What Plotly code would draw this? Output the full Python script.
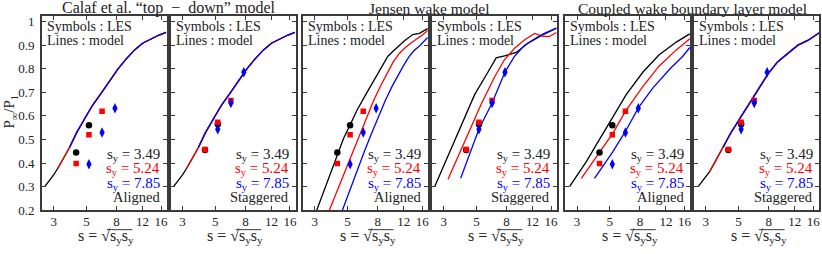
import math
import plotly.graph_objects as go

# ---------------- data ----------------
x_tickvals = [3, 5, 8, 12, 16]
x_ticktext = ["3", "5", "8", "12", "16"]
y_tickvals = [0.2, 0.3, 0.4, 0.5, 0.6, 0.7, 0.8, 0.9, 1.0]
y_ticktext = ["0.2", "0.3", "0.4", "0.5", "0.6", "0.7", "0.8", "0.9", "1"]

sy_labels = ["3.49", "5.24", "7.85"]
pair_titles = ["Calaf et al. \u201ctop\u2002\u2212\u2002down\u201d model", "Jensen wake model",
               "Coupled wake boundary layer model"]
layout_names = ["Aligned", "Staggered"]

# LES symbols (same in every model pair)
les_aligned_black_s = [4.26, 5.20]
les_aligned_black_p = [0.445, 0.560]
les_aligned_red_s = [4.26, 5.20, 6.38]
les_aligned_red_p = [0.398, 0.520, 0.620]
les_aligned_blue_s = [5.20, 6.38, 7.80]
les_aligned_blue_p = [0.395, 0.530, 0.632]

les_stag_black_s = [4.26, 5.20]
les_stag_black_p = [0.455, 0.565]
les_stag_red_s = [4.26, 5.20, 6.38]
les_stag_red_p = [0.457, 0.573, 0.665]
les_stag_blue_s = [5.20, 6.38, 7.80]
les_stag_blue_p = [0.543, 0.655, 0.785]

# Calaf et al. model (single curve; each s_y starts at its own s)
calaf_s = [2.61, 2.8, 3.0, 3.21, 3.5, 3.85, 4.3, 4.86, 5.5, 6.3, 7.2, 8.16, 9.3, 10.6, 12.0, 13.7, 15.5, 17.3]
calaf_p = [0.300, 0.325, 0.350, 0.379, 0.420, 0.467, 0.530, 0.588, 0.645, 0.697, 0.750, 0.798, 0.842,
           0.880, 0.908, 0.927, 0.943, 0.954]
calaf_start = [2.61, 3.21, 3.85]

# Jensen model, aligned
jen_al_black_s = [3.09, 3.5, 4.0, 4.31, 4.7, 5.22, 5.8, 6.53, 7.2, 7.82, 8.6, 9.37, 10.2, 10.96, 12.2, 13.8, 15.3, 17.4]
jen_al_black_p = [0.200, 0.290, 0.393, 0.448, 0.505, 0.564, 0.625, 0.683, 0.730, 0.771, 0.815, 0.853, 0.875,
                  0.893, 0.920, 0.945, 0.950, 0.970]
jen_al_red_s = [3.76, 4.2, 4.7, 5.2, 5.8, 6.73, 7.5, 8.4, 9.3, 10.2, 11.2, 12.3, 13.5, 15.0, 16.2, 17.4]
jen_al_red_p = [0.200, 0.275, 0.350, 0.418, 0.490, 0.595, 0.665, 0.730, 0.785, 0.830, 0.865, 0.890, 0.910,
                0.930, 0.945, 0.962]
jen_al_blue_s = [4.61, 5.2, 5.8, 6.5, 7.2, 8.08, 9.0, 10.0, 11.0, 12.0, 13.0, 14.0, 15.5, 17.4]
jen_al_blue_p = [0.200, 0.290, 0.370, 0.450, 0.520, 0.595, 0.665, 0.725, 0.775, 0.815, 0.850, 0.875, 0.900, 0.933]

# Jensen model, staggered
jen_st_black_s = [2.61, 3.21, 3.94, 4.86, 5.97, 6.8, 7.75, 9.29, 11.1, 13.7, 17.4]
jen_st_black_p = [0.300, 0.430, 0.560, 0.690, 0.785, 0.846, 0.855, 0.869, 0.907, 0.940, 0.972]
jen_st_red_s = [3.21, 4.38, 5.38, 6.63, 7.75, 9.06, 10.6, 12.4, 14.1, 15.6, 17.4]
jen_st_red_p = [0.331, 0.527, 0.649, 0.765, 0.839, 0.887, 0.923, 0.950, 0.937, 0.937, 0.954]
jen_st_blue_s = [3.91, 5.2, 6.38, 7.8, 9.06, 10.6, 12.4, 14.4, 17.4]
jen_st_blue_p = [0.335, 0.544, 0.655, 0.786, 0.853, 0.900, 0.927, 0.950, 0.972]

# Coupled wake boundary layer model, aligned
cwbl_al_black_s = [2.67, 3.47, 4.26, 5.25, 6.46, 8.36, 10.8, 14.1, 17.4]
cwbl_al_black_p = [0.300, 0.406, 0.500, 0.595, 0.690, 0.785, 0.859, 0.913, 0.948]
cwbl_al_red_s = [3.21, 4.26, 5.25, 6.39, 8.36, 10.8, 14.1, 17.4]
cwbl_al_red_p = [0.335, 0.446, 0.527, 0.620, 0.724, 0.812, 0.880, 0.927]
cwbl_al_blue_s = [3.94, 5.25, 6.39, 7.82, 9.77, 12.7, 15.6, 17.4]
cwbl_al_blue_p = [0.335, 0.448, 0.535, 0.635, 0.718, 0.798, 0.853, 0.890]

# Coupled wake boundary layer model, staggered (single curve)
cwbl_st_s = [2.66, 2.9, 3.19, 3.5, 3.93, 4.4, 5.09, 5.6, 6.27, 7.0, 7.91, 9.2, 10.8, 12.6, 14.7, 16.2, 17.7]
cwbl_st_p = [0.300, 0.330, 0.365, 0.410, 0.466, 0.525, 0.588, 0.630, 0.677, 0.725, 0.778, 0.830, 0.866,
             0.900, 0.920, 0.940, 0.954]
cwbl_st_start = [2.66, 3.19, 3.93]

# ---------------- styling / layout ----------------
W, H = 822, 254
COLORS = ["#000000", "#ff0000", "#0000ff"]
SERIF = "Liberation Serif"
SANS = "Liberation Sans Narrow"
AXCOL = "#3a3a3a"
TXT = "#222222"
panels_px = [(42, 167), (171, 296), (303.5, 428.5), (432.5, 557.5), (566, 691), (695, 820)]
TOP_PX, BOT_PX = 15, 216.7


def px(x):
    return x / W


def py(y):
    return 1 - y / H


def split_curve(s, p, starts):
    out = []
    for st in starts:
        pts = [(a, b) for a, b in zip(s, p) if a >= st - 1e-9]
        out.append(([a for a, _ in pts], [b for _, b in pts]))
    return out


models = [
    split_curve(calaf_s, calaf_p, calaf_start),
    split_curve(calaf_s, calaf_p, calaf_start),
    [(jen_al_black_s, jen_al_black_p), (jen_al_red_s, jen_al_red_p), (jen_al_blue_s, jen_al_blue_p)],
    [(jen_st_black_s, jen_st_black_p), (jen_st_red_s, jen_st_red_p), (jen_st_blue_s, jen_st_blue_p)],
    [(cwbl_al_black_s, cwbl_al_black_p), (cwbl_al_red_s, cwbl_al_red_p), (cwbl_al_blue_s, cwbl_al_blue_p)],
    split_curve(cwbl_st_s, cwbl_st_p, cwbl_st_start),
]
les = [
    [(les_aligned_black_s, les_aligned_black_p), (les_aligned_red_s, les_aligned_red_p),
     (les_aligned_blue_s, les_aligned_blue_p)],
    [(les_stag_black_s, les_stag_black_p), (les_stag_red_s, les_stag_red_p),
     (les_stag_blue_s, les_stag_blue_p)],
]
symbols = ["circle", "square", "diamond-tall"]
msizes = [6.5, 5.5, 7.5]

fig = go.Figure()
annotations = []
shapes = []
for i, (l, r) in enumerate(panels_px):
    n = i + 1
    xa = "x" if n == 1 else f"x{n}"
    ya = "y" if n == 1 else f"y{n}"
    for c, (s, p) in enumerate(models[i]):
        fig.add_trace(go.Scatter(x=s, y=p, mode="lines", xaxis=xa, yaxis=ya,
                                 line=dict(color=COLORS[c], width=1.3), showlegend=False,
                                 hoverinfo="skip"))
    for c, (s, p) in enumerate(les[i % 2]):
        fig.add_trace(go.Scatter(x=s, y=p, mode="markers", xaxis=xa, yaxis=ya,
                                 marker=dict(color=COLORS[c], symbol=symbols[c], size=msizes[c],
                                             line=dict(width=0)),
                                 showlegend=False, hoverinfo="skip"))
    axcommon = dict(showline=True, linecolor=AXCOL, linewidth=1.5, mirror="ticks", ticks="inside",
                    ticklen=4, tickwidth=1, tickcolor=AXCOL, showgrid=False, zeroline=False)
    fig.layout["xaxis" if n == 1 else f"xaxis{n}"] = dict(
        domain=[px(l), px(r)], type="log", range=[math.log10(2.5), math.log10(17.5)],
        tickvals=x_tickvals, ticktext=x_ticktext, anchor=ya, ticklabelstandoff=-2,
        tickfont=dict(family=SANS, size=13, color=TXT), **axcommon)
    fig.layout["yaxis" if n == 1 else f"yaxis{n}"] = dict(
        domain=[py(BOT_PX), py(TOP_PX)], range=[0.2, 1.022], tickvals=y_tickvals,
        ticktext=y_ticktext, anchor=xa, showticklabels=(n == 1), ticklabelstandoff=3,
        tickfont=dict(family=SANS, size=13, color=TXT), **axcommon)

    # panel texts
    annotations.append(dict(x=px(l + 3), y=py(26), xref="paper", yref="paper", xanchor="left",
                            yanchor="middle", showarrow=False, text="Symbols : LES",
                            font=dict(family=SERIF, size=14, color=TXT)))
    annotations.append(dict(x=px(l + 3), y=py(40.5), xref="paper", yref="paper", xanchor="left",
                            yanchor="middle", showarrow=False, text="Lines : model",
                            font=dict(family=SERIF, size=14, color=TXT)))
    for c, (lab, yy) in enumerate(zip(sy_labels, [159, 174, 189.3])):
        annotations.append(dict(x=px(r - 4.5), y=py(yy), xref="paper", yref="paper", xanchor="right",
                                yanchor="middle", showarrow=False,
                                text=f"s<sub>y</sub> = {lab}",
                                font=dict(family=SERIF, size=15, color=COLORS[c] if c else TXT)))
    annotations.append(dict(x=px(r - 4.5), y=py(203.5), xref="paper", yref="paper", xanchor="right",
                            yanchor="middle", showarrow=False, text=layout_names[i % 2],
                            font=dict(family=SERIF, size=14.5, color=TXT)))
    cx = (l + r) / 2
    annotations.append(dict(x=px(cx - 28), y=py(244), xref="paper", yref="paper", xanchor="left",
                            yanchor="middle", showarrow=False,
                            text="s = \u221as<sub>y</sub>s<sub>y</sub>",
                            font=dict(family=SERIF, size=16, color=TXT)))
    shapes.append(dict(type="line", xref="paper", yref="paper", x0=px(cx + 2.5), x1=px(cx + 28),
                       y0=py(237), y1=py(237), line=dict(color=TXT, width=0.9)))

for k, title in enumerate(pair_titles):
    l = panels_px[2 * k][0]
    r = panels_px[2 * k + 1][1]
    annotations.append(dict(x=px((l + r) / 2), y=py(6.5), xref="paper", yref="paper", xanchor="center",
                            yanchor="middle", showarrow=False, text=title,
                            font=dict(family=SERIF, size=16 if k == 0 else 15.5, color=TXT)))

annotations.append(dict(x=px(10), y=py(114), xref="paper", yref="paper", xanchor="center",
                        yanchor="middle", showarrow=False, textangle=-90,
                        text="P<sub>\u221e</sub>/P<sub>1</sub>",
                        font=dict(family=SERIF, size=15, color=TXT)))

fig.update_layout(width=W, height=H, margin=dict(l=0, r=0, t=0, b=0), paper_bgcolor="white",
                  plot_bgcolor="white", annotations=annotations, shapes=shapes, showlegend=False)
post = (
    "document.documentElement.style.margin='0px';"
    "document.documentElement.style.padding='0px';"
    "document.documentElement.style.overflow='hidden';"
    "document.documentElement.style.height='254px';"
    "document.body.style.margin='0px';"
    "document.body.style.padding='0px';"
    "document.body.style.overflow='hidden';"
    "document.body.style.height='254px';"
)
fig.write_html("out.html", config={"displayModeBar": False}, post_script=post)
